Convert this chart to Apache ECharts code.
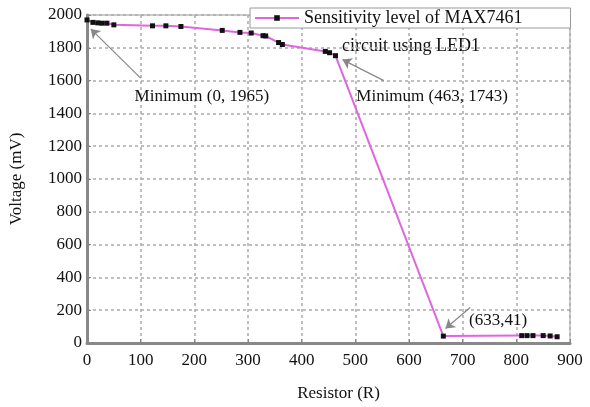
<!DOCTYPE html>
<html>
<head>
<meta charset="utf-8">
<script src="https://cdn.jsdelivr.net/npm/echarts@6/dist/echarts.min.js"></script>
<style>
  html, body { margin: 0; padding: 0; background: #fff; }
  #chart { width: 590px; height: 407px; }
</style>
</head>
<body>
<div id="chart"></div>
<script>
// Resistor (R) vs voltage (mV)
const resistor = [0, 11, 20, 28, 37, 50, 122, 147, 175, 252, 285, 306, 328, 333, 357, 364, 444, 452, 463, 664, 810, 820, 831, 850, 863, 876];
const voltage = [1970, 1955, 1952, 1950, 1950, 1940, 1934, 1934, 1930, 1906, 1894, 1890, 1874, 1872, 1832, 1820, 1778, 1770, 1752, 42, 45, 45, 45, 45, 43, 38];

const xTicks = [0, 100, 200, 300, 400, 500, 600, 700, 800, 900];
const yTicks = [0, 200, 400, 600, 800, 1000, 1200, 1400, 1600, 1800, 2000];

const seriesName = 'Sensitivity level of MAX7461';
const seriesName2 = 'circuit using LED1';

// annotation text + arrow (tail -> head) in data units
const notes = [
  { text: 'Minimum (0, 1965)', at: [214, 1505], from: [100, 1615], to: [7, 1915] },
  { text: 'Minimum (463, 1743)', at: [643, 1505], from: [553, 1600], to: [476, 1728] },
  { text: '(633,41)', at: [766, 138], from: [714, 216], to: [668, 88] },
];

const font = 'Liberation Serif';
const pink = '#e066e0';

const chart = echarts.init(document.getElementById('chart'));

chart.setOption({
  backgroundColor: '#fff',
  animation: false,
  grid: {
    left: 86, right: 20, top: 15, bottom: 59,
    show: true, borderColor: '#999', borderWidth: 1,
  },
  legend: {
    data: [seriesName],
    left: 250, top: 8,
    padding: [1, 48, 1, 4],
    backgroundColor: '#fff',
    borderColor: '#999',
    borderWidth: 1,
    itemWidth: 44, itemHeight: 7,
    itemGap: 4,
    textStyle: { fontFamily: font, fontSize: 18, color: '#111' },
  },
  graphic: [{
    type: 'text', left: 342, top: 37,
    style: { text: seriesName2, font: '18px "Liberation Serif"', fill: '#111' },
  }],
  xAxis: {
    type: 'value', min: 0, max: 900, interval: 100,
    name: 'Resistor (R)', nameLocation: 'middle', nameGap: 42,
    nameTextStyle: { fontFamily: font, fontSize: 17, color: '#111', padding: [0, 0, 0, 20] },
    axisLine: { show: true, lineStyle: { color: '#888', width: 3 } },
    axisTick: { show: true, inside: true, length: 4, lineStyle: { color: '#888' } },
    axisLabel: {
      fontFamily: font, fontSize: 17, color: '#111', margin: 9,
      formatter: v => (xTicks.includes(v) ? String(v) : ''),
    },
    splitLine: { show: true, lineStyle: { color: '#aaa', type: [3, 3], width: 1.5 } },
  },
  yAxis: {
    type: 'value', min: 0, max: 2000, interval: 200,
    name: 'Voltage (mV)', nameLocation: 'middle', nameGap: 62,
    nameTextStyle: { fontFamily: font, fontSize: 17, color: '#111' },
    axisLine: { show: true, lineStyle: { color: '#888', width: 3 } },
    axisTick: { show: true, inside: true, length: 4, lineStyle: { color: '#888' } },
    axisLabel: {
      fontFamily: font, fontSize: 17, color: '#111', margin: 5,
      formatter: v => (yTicks.includes(v) ? String(v) : ''),
    },
    splitLine: { show: true, lineStyle: { color: '#aaa', type: [3, 3], width: 1.5 } },
  },
  series: [{
    name: seriesName,
    type: 'line',
    data: resistor.map((x, i) => [x, voltage[i]]),
    symbol: 'rect',
    symbolSize: 5,
    showAllSymbol: true,
    lineStyle: { color: pink, width: 2 },
    itemStyle: { color: '#111', borderWidth: 0 },
    markLine: {
      silent: true,
      symbol: ['none', 'arrow'],
      symbolSize: 9,
      label: { show: false },
      lineStyle: { color: '#888', width: 1.2, type: 'solid' },
      data: notes.map(n => [{ coord: n.from }, { coord: n.to }]),
    },
    markPoint: {
      silent: true,
      symbol: 'circle',
      symbolSize: 1,
      itemStyle: { color: 'rgba(0,0,0,0)' },
      label: {
        show: true, position: 'inside',
        fontFamily: font, fontSize: 17, color: '#111',
        formatter: p => p.name,
      },
      data: notes.map(n => ({ name: n.text, coord: n.at })),
    },
  }],
});
</script>
</body>
</html>
